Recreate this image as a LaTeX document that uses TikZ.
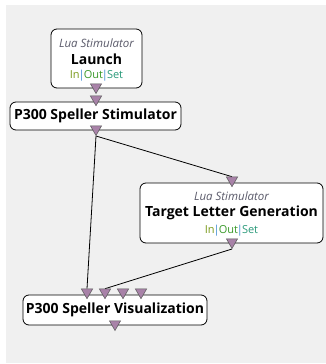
\documentclass[tikz,border=0pt]{standalone}
\usepackage{fontspec}
\setmainfont{Open Sans}
\usetikzlibrary{shapes.geometric}
\definecolor{canvas}{HTML}{F0F0F0}
\definecolor{portfill}{HTML}{A882A8}
\definecolor{portedge}{HTML}{555555}
\definecolor{typegray}{HTML}{5A5A6A}
\definecolor{inc}{HTML}{7A9A1A}
\definecolor{sepc}{HTML}{3A8AD0}
\definecolor{outc}{HTML}{3A9A2A}
\definecolor{setc}{HTML}{2A9A7A}
\pgfdeclarelayer{canvaslayer}
\pgfdeclarelayer{wirelayer}
\pgfsetlayers{canvaslayer,wirelayer,main}
\newcommand{\portsep}{\kern-1pt{\color{sepc}|}\kern-1pt}
\newcommand{\portrow}{{\color{inc}In}\portsep{\color{outc}Out}\portsep{\color{setc}Set}}
\begin{document}
\begin{tikzpicture}[x=1pt,y=-1pt,
  box/.style={draw=black, line width=0.8pt, fill=white, rounded corners=6pt, inner sep=0pt},
  port/.style={regular polygon, regular polygon sides=3, shape border rotate=180,
    fill=portfill, draw=portedge, line width=0.5pt, inner sep=0pt, minimum size=13pt},
  kind/.style={font=\fontsize{11.5}{13}\selectfont\itshape, text=typegray, inner sep=0pt},
  title/.style={font=\fontsize{14}{16}\selectfont\bfseries, inner sep=0pt},
  ports/.style={font=\fontsize{11}{13}\selectfont, inner sep=0pt},
  wire/.style={draw=black, line width=0.8pt}]
\useasboundingbox (0,0) rectangle (326,364);
\begin{pgfonlayer}{canvaslayer}
  \fill[white] (0,0) rectangle (326,364);
  \fill[canvas] (6,5) rectangle (326,363);
\end{pgfonlayer}

% Launch (Lua Stimulator)
\node[box, minimum width=91pt, minimum height=59pt] (launch) at (96.5,58.5) {};
\node[kind] (launchkind) at (96.5,43) {Lua Stimulator};
\node[title] (launchtitle) at (96.5,59) {Launch};
\node[ports] (launchports) at (96.5,75.5) {\portrow};

% P300 Speller Stimulator
\node[box, minimum width=171pt, minimum height=28pt] (stim) at (95.5,116) {};
\node[title] (stimtitle) at (95.5,116) {P300 Speller Stimulator};

% Target Letter Generation (Lua Stimulator)
\node[box, minimum width=183pt, minimum height=60pt] (target) at (231.5,213) {};
\node[kind] (targetkind) at (231.5,196.5) {Lua Stimulator};
\node[title] (targettitle) at (231.5,213) {Target Letter Generation};
\node[ports] (targetports) at (231.5,230.5) {\portrow};

% P300 Speller Visualization
\node[box, minimum width=184pt, minimum height=30pt] (vis) at (115,310) {};
\node[title] (vistitle) at (115,310) {P300 Speller Visualization};

% connectors' end points
\node[port] (launchout) at (96,87) {};
\node[port] (stimin) at (96,99.2) {};
\node[port] (stimout) at (96,129) {};
\node[port] (targetin) at (232,180.2) {};
\node[port] (targetout) at (232,242) {};
\node[port] (visin1) at (87,292.2) {};
\node[port] (visin2) at (105,292.2) {};
\node[port] (visin3) at (123,292.2) {};
\node[port] (visin4) at (141,292.2) {};
\node[port] (visout) at (115,324) {};

\begin{pgfonlayer}{wirelayer}
  \draw[wire] (stimout.south) -- (visin1.north);
  \draw[wire] (stimout.south) -- (targetin.north);
  \draw[wire] (targetout.south) -- (visin2.north);
\end{pgfonlayer}
\end{tikzpicture}
\end{document}
